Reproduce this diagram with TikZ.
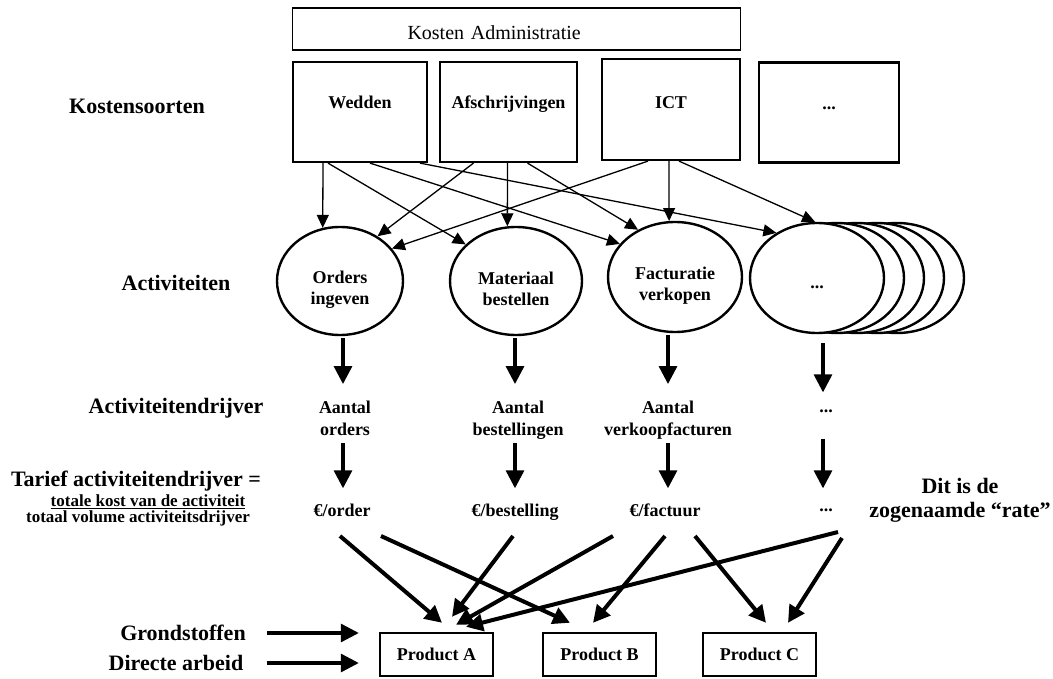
\documentclass[tikz,border=0pt]{standalone}
\usepackage{fontspec}
\setmainfont{Liberation Serif}
\usetikzlibrary{arrows.meta, positioning, calc, shapes.geometric}

\newcommand{\lblfont}{\bfseries\fontsize{22}{24}\selectfont}
\newcommand{\boxfont}{\bfseries\fontsize{18}{21}\selectfont}
\newcommand{\fracfont}{\bfseries\fontsize{17}{19}\selectfont}
\newcommand{\ellstrut}{\rule{0pt}{29pt}}

\tikzset{
  costbox/.style={draw, line width=2.2pt, inner sep=0pt, minimum height=100pt, text height=47pt, text depth=53pt, font=\boxfont},
  actnode/.style={ellipse, draw, line width=2.4pt, fill=white, align=center, inner sep=0pt, font=\boxfont},
  drvnode/.style={align=center, inner sep=2pt, text depth=5pt, font=\bfseries\fontsize{18}{22}\selectfont},
  ratenode/.style={inner sep=2pt, text height=13pt, text depth=4pt, font=\boxfont},
  lbl/.style={inner sep=2pt, font=\lblfont},
  prodbox/.style={draw, line width=2.4pt, minimum width=113pt, minimum height=43pt, inner sep=0pt, font=\boxfont},
  costarrow/.style={line width=1.3pt, -{Triangle[length=13pt,width=12pt]}},
  flowarrow/.style={line width=3.2pt, -{Triangle[length=18pt,width=18pt]}},
  ratearrow/.style={line width=4pt, -{Triangle[length=17pt,width=17pt]}}
}

\begin{document}
\begin{tikzpicture}[x=1pt,y=-1pt]
  \useasboundingbox (0,0) rectangle (1053,679);

  \node[draw, line width=1.3pt, minimum width=448pt, minimum height=42pt, inner sep=0pt, text height=32pt, text depth=10pt, text width=448pt, align=left, font=\fontsize{20}{24}\selectfont] (kadm) at (516.5,29) {\hspace*{115pt}Kosten Administratie};

  \node[costbox, minimum width=134pt] (wed) at (360,112) {Wedden};
  \node[costbox, minimum width=137pt] (afs) at (508.5,112) {Afschrijvingen};
  \node[costbox, minimum width=138pt, text height=50pt, text depth=51pt, minimum height=101pt] (ict) at (671,109.5) {ICT};
  \node[costbox, minimum width=140pt] (dbx) at (829,112.5) {...};

  \node[lbl] (ks) at (137,106) {Kostensoorten};
  \node[lbl] (act) at (176,283) {Activiteiten};
  \node[lbl] (adr) at (176,408) {Activiteitendrijver};
  \node[lbl] (tar) at (136,481) {Tarief activiteitendrijver =};
  \node[inner sep=1pt, font=\fracfont] (tteller) at (148,502) {\underline{totale kost van de activiteit}};
  \node[inner sep=1pt, font=\fracfont] (tnoemer) at (138,518) {totaal volume activiteitsdrijver};
  \node[lbl] (gr) at (183,633) {Grondstoffen};
  \node[lbl] (da) at (176,663) {Directe arbeid};
  \node[lbl, align=center] (rtxt) at (960,500) {Dit is de\\zogenaamde “rate”};

  % activiteiten
  \node[actnode, minimum width=126pt, minimum height=108pt] (ord) at (340,281) {\ellstrut Orders\\ingeven};
  \node[actnode, minimum width=132pt, minimum height=108pt] (mat) at (516,281) {\ellstrut Materiaal\\bestellen};
  \node[actnode, minimum width=134pt, minimum height=110pt] (fac) at (675,277) {\ellstrut Facturatie\\verkopen};
  \foreach \k in {80,60,40,20}
    \draw[line width=2.4pt, fill=white] (817+\k,278) ellipse [x radius=67, y radius=55];
  \node[actnode, minimum width=134pt, minimum height=110pt, text height=22pt, text depth=0pt] (dt) at (817,278) {...};

  \draw[costarrow] ($(wed.south)+(-37,0)$) -- (ord.108);
  \draw[costarrow] ($(wed.south)+(-32,0)$) -- (mat.144);
  \draw[costarrow] ($(wed.south)+(10,0)$) -- (fac.149);
  \draw[costarrow] ($(wed.south)+(60,0)$) -- (dt.132);
  \draw[costarrow] ($(afs.south)+(-35,0)$) -- (ord.50);
  \draw[costarrow] ($(afs.south)+(-1,0)$) -- (mat.99);
  \draw[costarrow] ($(afs.south)+(19,0)$) -- (fac.128);
  \draw[costarrow] ($(ict.south)+(-23,0)$) -- (ord.32);
  \draw[costarrow] ($(ict.south)+(-2,0)$) -- (fac.96);
  \draw[costarrow] ($(ict.south)+(8,0)$) -- (dt.92);

  % drijvers en tarieven
  \node[drvnode] (dord) at (345,421) {Aantal\\orders};
  \node[drvnode] (dbes) at (518,421) {Aantal\\bestellingen};
  \node[drvnode] (dfac) at (668,421) {Aantal\\verkoopfacturen};
  \node[inner sep=2pt, font=\boxfont] (ddt) at (826,411) {...};

  \node[ratenode] (rord) at (342,512) {€/order};
  \node[ratenode] (rbes) at (515,512) {€/bestelling};
  \node[ratenode] (rfac) at (665,512) {€/factuur};
  \node[inner sep=2pt, font=\boxfont] (rdt) at (826,510) {...};

  \draw[flowarrow, shorten <=2pt, shorten >=15pt] ($(ord.south)+(3,0)$) -- ($(dord.north)+(-2,0)$);
  \draw[flowarrow, shorten <=2pt, shorten >=15pt] ($(mat.south)+(-1,0)$) -- ($(dbes.north)+(-3,0)$);
  \draw[flowarrow, shorten <=2pt, shorten >=15pt] ($(fac.south)+(-7,0)$) -- (dfac.north);
  \draw[flowarrow, shorten <=9pt, shorten >=15pt] ($(dt.south)+(6,0)$) -- ($(ddt.north)+(-3,0)$);

  \draw[flowarrow, shorten >=13pt] ($(dord.south)+(-2,0)$) -- ($(rord.north)+(1,0)$);
  \draw[flowarrow, shorten >=13pt] ($(dbes.south)+(-3,0)$) -- (rbes.north);
  \draw[flowarrow, shorten >=13pt] (dfac.south) -- ($(rfac.north)+(3,0)$);
  \draw[flowarrow, shorten <=24pt, shorten >=18pt] ($(ddt.south)+(-3,0)$) -- ($(rdt.north)+(-3,0)$);

  % producten
  \node[prodbox] (pA) at (436.5,654.5) {Product A};
  \node[prodbox] (pB) at (599.5,654.5) {Product B};
  \node[prodbox] (pC) at (759.5,654.5) {Product C};

  \draw[ratearrow] ($(rord)+(-2,24)$) -- ($(pA.north)+(5.5,-9)$);
  \draw[ratearrow] ($(rord)+(39,24)$) -- ($(pB.north)+(-29.5,-9)$);
  \draw[ratearrow] ($(rbes)+(-2,24)$) -- ($(pA.north)+(15.5,-15)$);
  \draw[ratearrow] ($(rfac)+(-52,24)$) -- ($(pA.north)+(19.5,-7)$);
  \draw[ratearrow] ($(rfac)+(0,24)$) -- ($(pB.north)+(-6.5,-9)$);
  \draw[ratearrow] ($(rfac)+(30,24)$) -- ($(pC.north)+(6.5,-9)$);
  \draw[ratearrow] ($(rdt)+(12,22)$) -- ($(pA.north)+(29.5,-5)$);
  \draw[ratearrow] ($(rdt)+(16,28)$) -- ($(pC.north)+(28.5,-9)$);

  \draw[flowarrow, shorten <=19pt, shorten >=20pt] (gr.east) -- (gr.east -| pA.west);
  \draw[flowarrow, shorten <=21pt, shorten >=20pt] (da.east) -- (da.east -| pA.west);
\end{tikzpicture}
\end{document}
